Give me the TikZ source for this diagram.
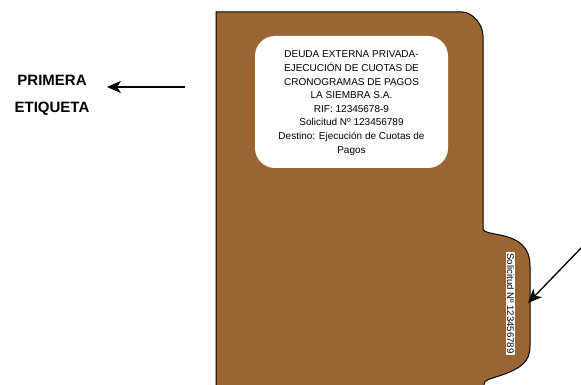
\documentclass[tikz,border=0pt]{standalone}
\usepackage{fontspec}
\setmainfont{Liberation Sans}
\usetikzlibrary{arrows.meta}
\definecolor{folder}{RGB}{153,102,51}
\tikzset{
  folderline/.style={draw=black, line width=1pt, fill=folder},
  labelbox/.style={fill=white, rounded corners=20pt},
  labeltext/.style={align=center, font=\fontsize{10}{13.6}\selectfont, inner sep=0pt},
  sidetext/.style={fill=white, rotate=-90, inner sep=1pt, font=\fontsize{9.6}{11}\selectfont},
  bigtext/.style={align=center, font=\fontsize{15}{26.5}\selectfont\bfseries, inner sep=0pt},
  pointer/.style={draw=black, line width=1.3pt, -{Stealth[length=14pt, width=12pt, inset=4pt]}}
}
\begin{document}
\begin{tikzpicture}[x=1pt, y=-1pt]
\useasboundingbox (0,0) rectangle (581,385);
\clip (0,0) rectangle (581,385);
% folder
\path[folderline] (216,400) -- (216,12) -- (462,12)
  .. controls (472,12) and (483,24) .. (483,36)
  -- (483,229)
  .. controls (483,232) and (490,233) .. (500,235)
  .. controls (520,239) and (530,248) .. (530,266)
  -- (530,346)
  .. controls (530,362) and (521,368) .. (502,375)
  .. controls (490,379) and (484,380) .. (484,384)
  -- (484,400) -- cycle;
% label
\path[labelbox] (255,36) rectangle (448,168);
\node[labeltext] (lbl) at (351.5,103) {DEUDA EXTERNA PRIVADA-\\EJECUCIÓN DE CUOTAS DE\\CRONOGRAMAS DE PAGOS\\LA SIEMBRA S.A.\\RIF: 12345678-9\\Solicitud Nº 123456789\\Destino: Ejecución de Cuotas de\\Pagos};
% side label
\node[sidetext] (side) at (510.5,303.5) {Solicitud Nº 123456789};
% left caption
\node[bigtext] (cap) at (52,95.5) {PRIMERA\\ETIQUETA};
% arrows
\coordinate (a1s) at (185,87);
\coordinate (a1e) at (107,87);
\draw[pointer] (a1s) -- (a1e);
\coordinate (a2s) at (583,246);
\coordinate (a2e) at (528,303);
\draw[pointer] (a2s) -- (a2e);
\end{tikzpicture}
\end{document}
